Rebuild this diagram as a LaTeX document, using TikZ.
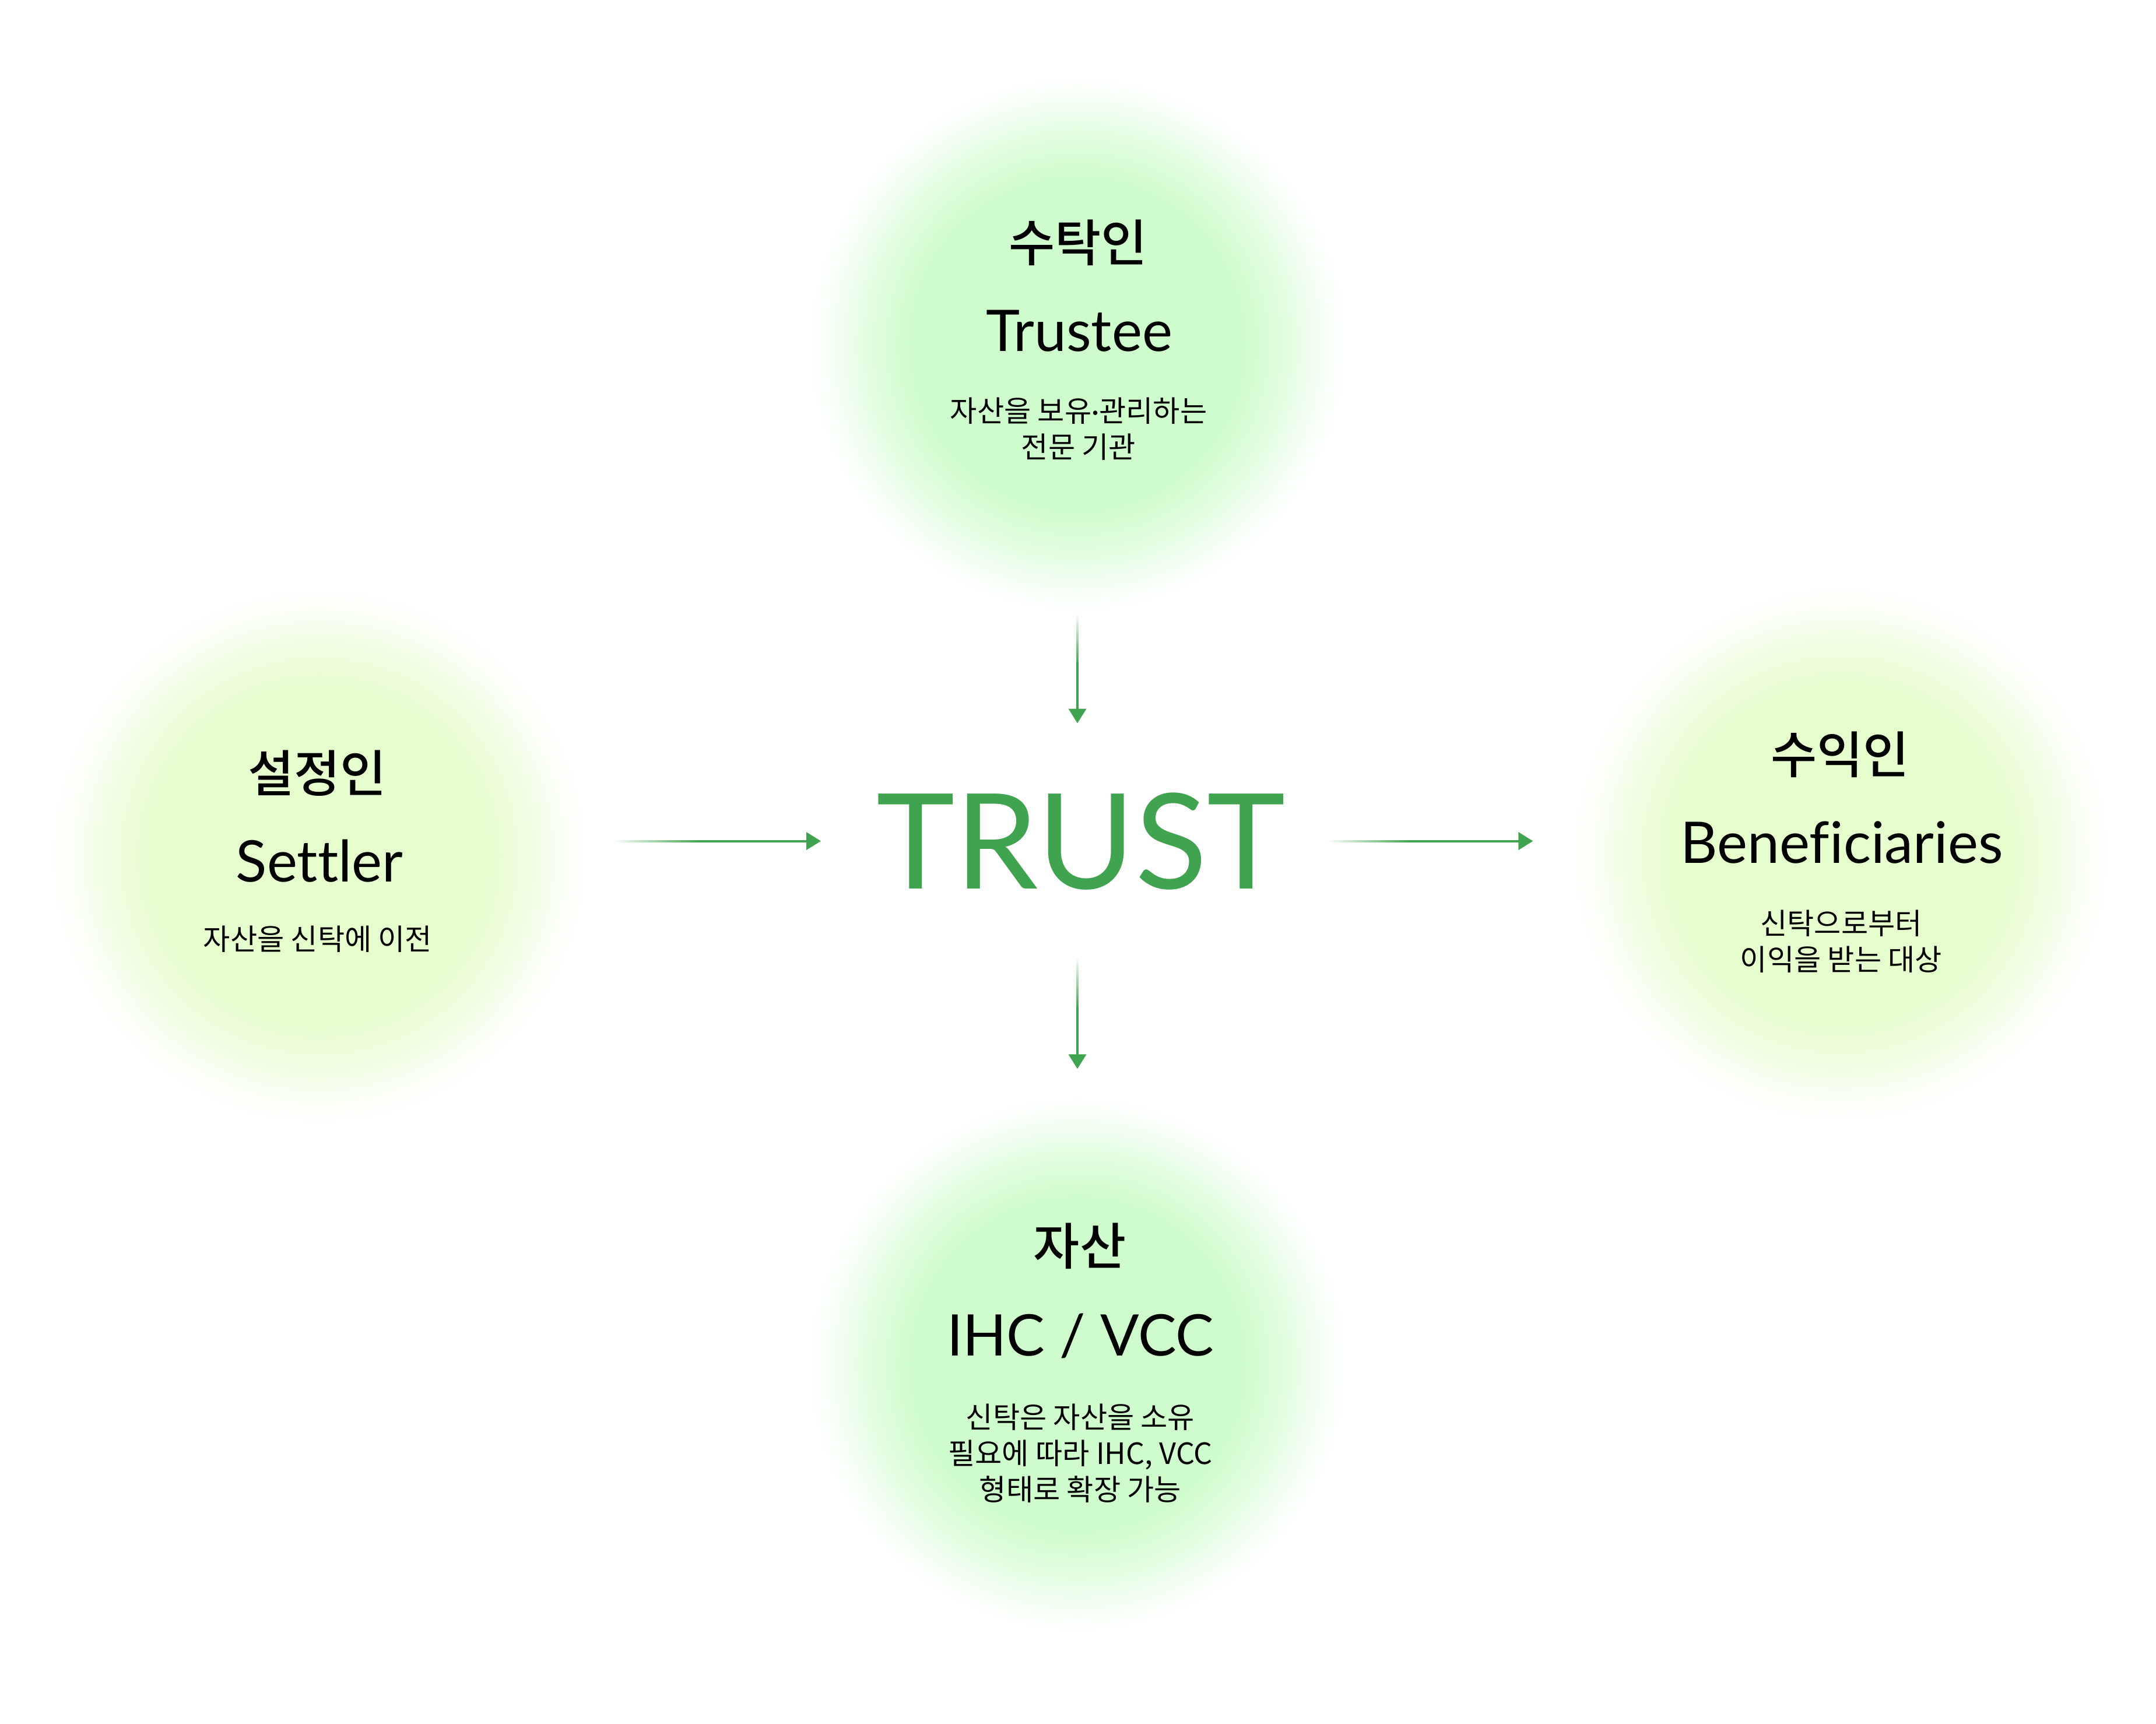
\documentclass[tikz,border=0pt]{standalone}
\usepackage{fontspec}
\setmainfont{Lato}[Ligatures=CommonOff]
\newfontfamily\kr{Noto Sans CJK KR}
\newfontfamily\krmed{Noto Sans CJK KR Medium}
\usetikzlibrary{arrows.meta,fadings}
\definecolor{trustgreen}{RGB}{64,163,79}
\definecolor{mintglow}{RGB}{207,252,204}
\definecolor{limeglow}{RGB}{230,253,206}
\colorlet{mintmid}{mintglow!55!white}
\colorlet{mintlow}{mintglow!18!white}
\colorlet{limemid}{limeglow!55!white}
\colorlet{limelow}{limeglow!18!white}
\pgfdeclareradialshading{mintshade}{\pgfpoint{0bp}{0bp}}{color(0bp)=(mintglow); color(15.5bp)=(mintglow); color(20bp)=(mintmid); color(23bp)=(mintlow); color(25bp)=(white); color(50bp)=(white)}
\pgfdeclareradialshading{limeshade}{\pgfpoint{0bp}{0bp}}{color(0bp)=(limeglow); color(15.5bp)=(limeglow); color(20bp)=(limemid); color(23bp)=(limelow); color(25bp)=(white); color(50bp)=(white)}
\pgfdeclarehorizontalshading{tailshadeE}{100bp}{color(0bp)=(pgftransparent!100); color(25bp)=(pgftransparent!100); color(50bp)=(pgftransparent!0); color(100bp)=(pgftransparent!0)}
\pgfdeclarefading{tail east}{\pgfuseshading{tailshadeE}}
\pgfdeclareverticalshading{tailshadeS}{100bp}{color(0bp)=(pgftransparent!0); color(50bp)=(pgftransparent!0); color(75bp)=(pgftransparent!100); color(100bp)=(pgftransparent!100)}
\pgfdeclarefading{tail south}{\pgfuseshading{tailshadeS}}

\begin{document}
\begin{tikzpicture}[
    glowmint/.style={circle, minimum size=9.2cm, inner sep=0pt, shade, shading=mintshade},
    glowlime/.style={circle, minimum size=9.2cm, inner sep=0pt, shade, shading=limeshade},
    roletitle/.style={font=\krmed\fontsize{24.5}{29}\selectfont},
    roleen/.style={anchor=base, inner sep=0pt, font=\fontsize{28}{32}\selectfont},
    roledesc/.style={align=center, inner sep=0pt, font=\kr\fontsize{14.3}{17.6}\selectfont},
    flow/.style={->, trustgreen, line width=0.04cm, fit fading=false},
    >={Triangle[length=0.25cm, width=0.3cm]}
  ]
  \useasboundingbox (0,0) rectangle (36.98,-29.56);

  \node[glowmint] (tee) at (18.48,-5.90) {};
  \node[glowlime] (set) at (5.47,-14.68) {};
  \node[glowlime] (ben) at (31.57,-14.65) {};
  \node[glowmint] (ast) at (18.48,-23.40) {};

  \node[roletitle] (teeko) at (18.49,-4.16) {수탁인};
  \node[roleen] (teeen) at (18.51,-6.02) {Trustee};
  \node[roledesc] (teede) at (18.50,-7.36) {자산을 보유{\rmfamily ·}관리하는\\전문 기관};

  \node[roletitle] (setko) at (5.44,-13.26) {설정인};
  \node[roleen] (seten) at (5.48,-15.12) {Settler};
  \node[roledesc] (setde) at (5.45,-16.11) {자산을 신탁에 이전};

  \node[roletitle] (benko) at (31.56,-12.94) {수익인};
  \node[roleen] (benen) at (31.59,-14.80) {Beneficiaries};
  \node[roledesc] (bende) at (31.58,-16.15) {신탁으로부터\\이익을 받는 대상};

  \node[roletitle] (astko) at (18.52,-21.37) {자산};
  \node[roleen] (asten) at (18.53,-23.25) {IHC / VCC};
  \node[roledesc] (astde) at (18.53,-24.93) {신탁은 자산을 소유\\필요에 따라 IHC, VCC\\형태로 확장 가능};

  \node[anchor=base, inner sep=0pt, text=trustgreen, font=\fontsize{64.7}{70}\selectfont] (tr) at (18.54,-15.24) {TRUST};

  \draw[flow, path fading=tail south, fading transform={shift={(18.48,-11.40)}}, shorten >=1.18cm] (tee.south) -- (tee.south |- tr.north);
  \draw[flow, path fading=tail south, fading transform={shift={(18.48,-17.30)}}, shorten <=1.13cm, shorten >=0.46cm] (ast.north |- tr.south) -- (ast.north);
  \draw[flow, path fading=tail east, fading transform={shift={(12.00,-14.43)}, xscale=1.7}, shorten <=0.43cm, shorten >=0.95cm] (set.east |- tr.west) -- (tr.west);
  \draw[flow, path fading=tail east, fading transform={shift={(24.20,-14.43)}, xscale=1.65}, shorten <=0.70cm, shorten >=0.67cm] (tr.east) -- (tr.east -| ben.west);
\end{tikzpicture}
\end{document}
